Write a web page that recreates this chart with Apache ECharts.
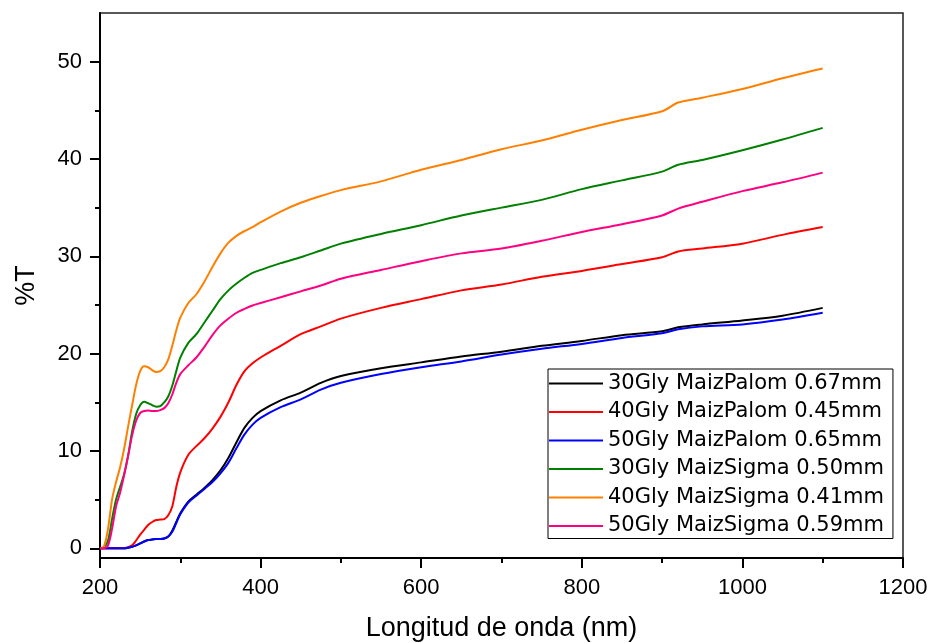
<!DOCTYPE html>
<html>
<head>
<meta charset="utf-8">
<script src="https://cdn.jsdelivr.net/npm/echarts@6.0.0/dist/echarts.min.js"></script>
<style>
  html, body { margin: 0; padding: 0; background: #fff; }
  #chart { width: 932px; height: 643px; }
</style>
</head>
<body>
<div id="chart"></div>
<script>
// wavelength grid (nm)
const wavelengths = [200, 205, 210, 215, 220, 225, 230, 235, 240, 245, 250, 255, 260, 265, 270, 275, 280, 285, 290, 295,
  300, 310, 320, 330, 340, 350, 360, 370, 380, 390, 400, 425, 450, 475, 500, 550, 600, 650, 700, 750, 800, 850, 900, 920, 950, 1000, 1050, 1100];

const palom30 = [0, 0, 0, 0, 0, 0, 0, 0.05, 0.15, 0.3, 0.5, 0.7, 0.85, 0.9, 0.95, 0.95, 1.0, 1.2, 1.8, 2.7,
  3.6, 4.8, 5.5, 6.2, 7.0, 8.0, 9.3, 10.9, 12.4, 13.4, 14.1, 15.2, 16.0, 17.0, 17.7, 18.5, 19.1, 19.7, 20.2, 20.8, 21.3, 21.9, 22.3, 22.7, 23.0, 23.4, 23.9, 24.7];
const palom40 = [0, 0, 0, 0, 0, 0, 0, 0.1, 0.3, 0.8, 1.4, 1.9, 2.4, 2.7, 2.9, 2.95, 3.0, 3.4, 4.3, 6.3,
  7.8, 9.6, 10.5, 11.3, 12.3, 13.5, 15.0, 16.8, 18.2, 19.0, 19.6, 20.8, 22.0, 22.8, 23.6, 24.7, 25.6, 26.5, 27.1, 27.9, 28.5, 29.2, 29.9, 30.5, 30.8, 31.3, 32.2, 33.0];
const palom50 = [0, 0, 0, 0, 0, 0, 0, 0.05, 0.15, 0.3, 0.5, 0.7, 0.85, 0.9, 0.95, 0.95, 1.0, 1.2, 1.7, 2.6,
  3.5, 4.7, 5.4, 6.1, 6.8, 7.7, 8.8, 10.3, 11.7, 12.7, 13.4, 14.5, 15.3, 16.3, 17.0, 17.9, 18.6, 19.2, 19.9, 20.5, 21.0, 21.6, 22.1, 22.5, 22.8, 23.0, 23.5, 24.2];
const sigma30 = [0, 0.1, 0.8, 3.0, 5.0, 6.3, 7.6, 9.5, 12.0, 13.8, 14.7, 15.05, 14.9, 14.7, 14.55, 14.6, 15.0, 15.6, 16.7, 18.2,
  19.6, 21.1, 22.0, 23.2, 24.4, 25.6, 26.5, 27.2, 27.8, 28.3, 28.6, 29.3, 29.9, 30.6, 31.3, 32.3, 33.2, 34.2, 35.0, 35.8, 36.9, 37.8, 38.7, 39.4, 39.9, 40.9, 42.0, 43.2];
const sigma40 = [0, 0.2, 2.0, 5.0, 6.8, 8.3, 10.2, 12.5, 14.7, 16.8, 18.2, 18.7, 18.6, 18.3, 18.1, 18.2, 18.6, 19.4, 20.8, 22.4,
  23.7, 25.2, 26.1, 27.4, 28.9, 30.3, 31.4, 32.1, 32.6, 33.0, 33.5, 34.6, 35.5, 36.2, 36.8, 37.7, 38.9, 39.9, 41.0, 41.9, 43.0, 44.0, 44.9, 45.8, 46.3, 47.2, 48.3, 49.3];
const sigma50 = [0, 0, 0.3, 2.0, 4.3, 5.7, 7.5, 9.5, 11.6, 13.1, 13.9, 14.1, 14.15, 14.1, 14.1, 14.2, 14.4, 14.9, 15.8, 17.0,
  17.9, 18.8, 19.6, 20.7, 21.9, 22.9, 23.6, 24.2, 24.6, 24.95, 25.2, 25.8, 26.4, 27.0, 27.7, 28.6, 29.5, 30.3, 30.8, 31.6, 32.5, 33.3, 34.2, 34.9, 35.6, 36.7, 37.6, 38.6];

const seriesNames = [
  "30Gly MaizPalom 0.67mm",
  "40Gly MaizPalom 0.45mm",
  "50Gly MaizPalom 0.65mm",
  "30Gly MaizSigma 0.50mm",
  "40Gly MaizSigma 0.41mm",
  "50Gly MaizSigma 0.59mm",
];
const seriesValues = [palom30, palom40, palom50, sigma30, sigma40, sigma50];
const seriesColors = ["#000000", "#ff0000", "#0000ff", "#008000", "#ff8000", "#ff0080"];

const yTicks = [0, 10, 20, 30, 40, 50];
const yMinorTicks = [5, 15, 25, 35, 45];

const FONT = "'Liberation Sans', Arial, sans-serif";

const chart = echarts.init(document.getElementById("chart"));

const axisLine = { show: true, onZero: false, lineStyle: { color: "#000", width: 2 } };

chart.setOption({
  animation: false,
  grid: {
    left: 100,
    top: 13,
    width: 803,
    height: 545,
    outerBoundsMode: "none",
    containLabel: false,
    show: true,
    borderColor: "#222",
    borderWidth: 1.5,
  },
  legend: {
    data: seriesNames.map((name) => ({ name, icon: "rect" })),
    orient: "vertical",
    left: 548,
    top: 369,
    itemWidth: 54,
    itemHeight: 2,
    itemGap: 7.5,
    padding: [4, 9, 2, 1],
    borderColor: "#000",
    borderWidth: 1,
    backgroundColor: "#fff",
    textStyle: { fontFamily: "'DejaVu Sans', sans-serif", fontSize: 21, color: "#000" },
  },
  xAxis: {
    type: "value",
    min: 200,
    max: 1200,
    interval: 200,
    name: "Longitud de onda (nm)",
    nameLocation: "middle",
    nameGap: 57,
    nameTextStyle: { fontFamily: FONT, fontSize: 27, color: "#000" },
    axisLine,
    axisTick: { show: true, inside: false, length: 10, lineStyle: { color: "#000", width: 2 } },
    minorTick: { show: true, splitNumber: 2, length: 5, lineStyle: { color: "#000", width: 2 } },
    axisLabel: { fontFamily: FONT, fontSize: 22, color: "#000", margin: 19, formatter: (v) => String(v) },
    splitLine: { show: false },
  },
  yAxis: [
    {
      type: "value",
      min: -1,
      max: 55,
      name: "%T",
      nameLocation: "middle",
      nameGap: 60,
      nameRotate: 90,
      nameTextStyle: { fontFamily: FONT, fontSize: 27, color: "#000" },
      axisLine,
      axisTick: { show: true, inside: false, length: 10, customValues: yTicks, lineStyle: { color: "#000", width: 2 } },
      axisLabel: { fontFamily: FONT, fontSize: 22, color: "#000", margin: 18, customValues: yTicks },
      splitLine: { show: false },
    },
    {
      type: "value",
      min: -1,
      max: 55,
      position: "left",
      axisLine: { show: false },
      axisTick: { show: true, inside: false, length: 5, customValues: yMinorTicks, lineStyle: { color: "#000", width: 2 } },
      axisLabel: { show: false },
      splitLine: { show: false },
    },
  ],
  series: seriesNames.map((name, i) => ({
    name,
    type: "line",
    yAxisIndex: 0,
    data: wavelengths.map((w, k) => [w, seriesValues[i][k]]),
    symbol: "none",
    smooth: 0.3,
    lineStyle: { color: seriesColors[i], width: 2 },
    itemStyle: { color: seriesColors[i] },
  })),
});
</script>
</body>
</html>
